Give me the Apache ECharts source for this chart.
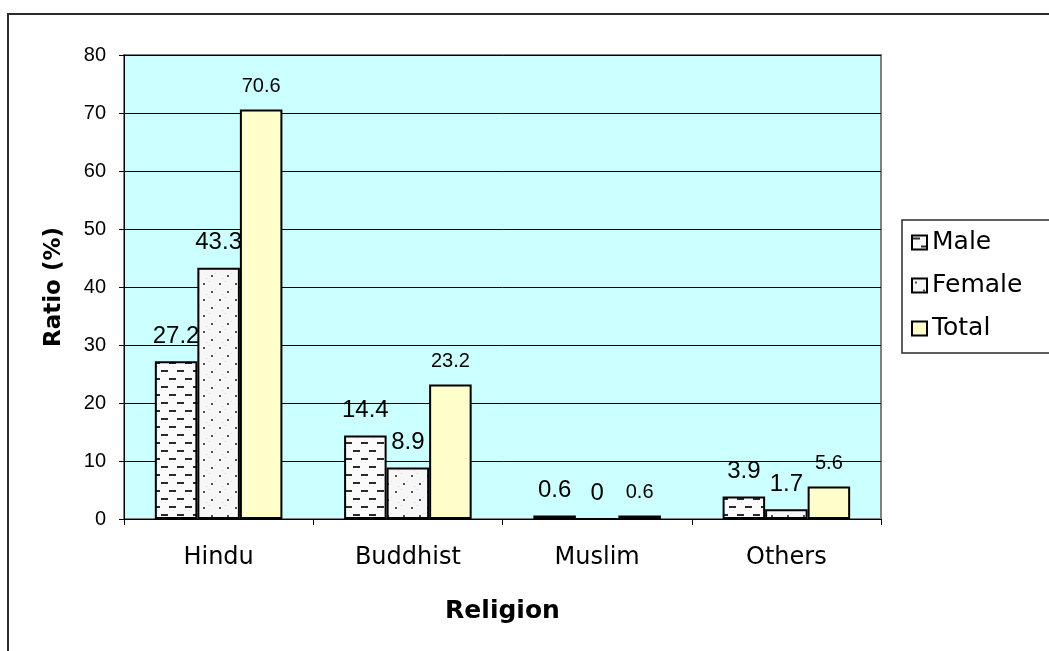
<!DOCTYPE html>
<html>
<head>
<meta charset="utf-8">
<script src="https://cdn.jsdelivr.net/npm/echarts@6/dist/echarts.min.js"></script>
<style>
  html, body { margin: 0; padding: 0; background: #ffffff; }
  #chart { width: 1049px; height: 651px; }
</style>
</head>
<body>
<div id="chart"></div>
<script>
// Religion breakdown (%)
const categories = ['Hindu', 'Buddhist', 'Muslim', 'Others'];
const maleValues = [27.2, 14.4, 0.6, 3.9];
const femaleValues = [43.3, 8.9, 0, 1.7];
const totalValues = [70.6, 23.2, 0.6, 5.6];
const yTicks = [0, 10, 20, 30, 40, 50, 60, 70, 80];

const FONT = '"Liberation Sans", Arial, sans-serif';
const WIDE_FONT = '"DejaVu Sans", "Liberation Sans", sans-serif';

// Dashed hatch fill for the Male bars
function makeDashPattern() {
  const c = document.createElement('canvas');
  c.width = 16; c.height = 16;
  const g = c.getContext('2d');
  g.fillStyle = '#fafafa';
  g.fillRect(0, 0, 16, 16);
  g.fillStyle = '#dcdcdc';
  g.fillRect(5, 6, 1, 1); g.fillRect(13, 14, 1, 1);
  g.fillStyle = '#2a2a2a';
  g.fillRect(1, 2, 7, 2);
  g.fillRect(9, 10, 7, 2);
  return c;
}

// Dotted fill for the Female bars
function makeDotPattern() {
  const c = document.createElement('canvas');
  c.width = 16; c.height = 16;
  const g = c.getContext('2d');
  g.fillStyle = '#f6f6f6';
  g.fillRect(0, 0, 16, 16);
  g.fillStyle = '#d8d8d8';
  g.fillRect(7, 1, 1, 1); g.fillRect(1, 9, 1, 1); g.fillRect(14, 6, 1, 1);
  g.fillStyle = '#505050';
  g.fillRect(3, 3, 2, 2);
  g.fillRect(11, 11, 2, 2);
  return c;
}

const malePattern = { image: makeDashPattern(), repeat: 'repeat' };
const femalePattern = { image: makeDotPattern(), repeat: 'repeat' };

function barSeries(name, data, fill, labelSize, labelDistance) {
  return {
    name: name,
    type: 'bar',
    data: data,
    barGap: '0%',
    barCategoryGap: '32.6%',
    itemStyle: { color: fill, borderColor: '#000000', borderWidth: 2 },
    label: {
      show: true,
      position: 'top',
      distance: labelDistance,
      color: '#000000',
      fontFamily: FONT,
      fontSize: labelSize
    }
  };
}

const chart = echarts.init(document.getElementById('chart'), null, { renderer: 'canvas' });

chart.setOption({
  animation: false,
  backgroundColor: '#ffffff',
  graphic: [
    {
      type: 'rect',
      shape: { x: 8, y: 14, width: 1100, height: 700 },
      style: { fill: 'none', stroke: '#2b2b2b', lineWidth: 2 },
      z: -10
    },
    {
      type: 'rect',
      shape: { x: 902, y: 220, width: 200, height: 133 },
      style: { fill: '#ffffff', stroke: '#2b2b2b', lineWidth: 1.5 },
      z: -5
    }
  ],
  grid: {
    left: 124, right: 168, top: 55, bottom: 132,
    show: true,
    backgroundColor: '#CCFFFF',
    borderColor: '#808080',
    borderWidth: 2
  },
  legend: {
    orient: 'vertical',
    left: 911,
    top: 230,
    padding: 0,
    itemWidth: 15,
    itemHeight: 14,
    itemGap: 18,
    icon: 'rect',
    textStyle: { fontFamily: WIDE_FONT, fontSize: 25, color: '#000000' },
    data: ['Male', 'Female', 'Total']
  },
  xAxis: {
    type: 'category',
    data: categories,
    name: 'Religion',
    nameLocation: 'middle',
    nameGap: 80,
    nameTextStyle: { fontFamily: WIDE_FONT, fontSize: 25, fontWeight: 'bold', color: '#000000' },
    axisLine: { show: true, lineStyle: { color: '#000000', width: 1 } },
    axisTick: { show: true, length: 6, alignWithLabel: false, lineStyle: { color: '#000000' } },
    axisLabel: { fontFamily: WIDE_FONT, fontSize: 24, color: '#000000', margin: 27 },
    splitLine: { show: false }
  },
  yAxis: {
    type: 'value',
    min: yTicks[0],
    max: yTicks[yTicks.length - 1],
    interval: yTicks[1] - yTicks[0],
    name: 'Ratio (%)',
    nameLocation: 'middle',
    nameGap: 58,
    nameTextStyle: { fontFamily: WIDE_FONT, fontSize: 23, fontWeight: 'bold', color: '#000000' },
    axisLine: { show: true, lineStyle: { color: '#000000', width: 1 } },
    axisTick: { show: true, length: 5, lineStyle: { color: '#000000' } },
    axisLabel: { fontFamily: FONT, fontSize: 20, color: '#000000', margin: 18 },
    splitLine: { show: true, lineStyle: { color: '#000000', width: 1 } }
  },
  series: [
    barSeries('Male', maleValues, malePattern, 24, 13),
    barSeries('Female', femaleValues, femalePattern, 24, 13),
    barSeries('Total', totalValues, '#FFFFCC', 20, 13)
  ]
});
</script>
</body>
</html>
